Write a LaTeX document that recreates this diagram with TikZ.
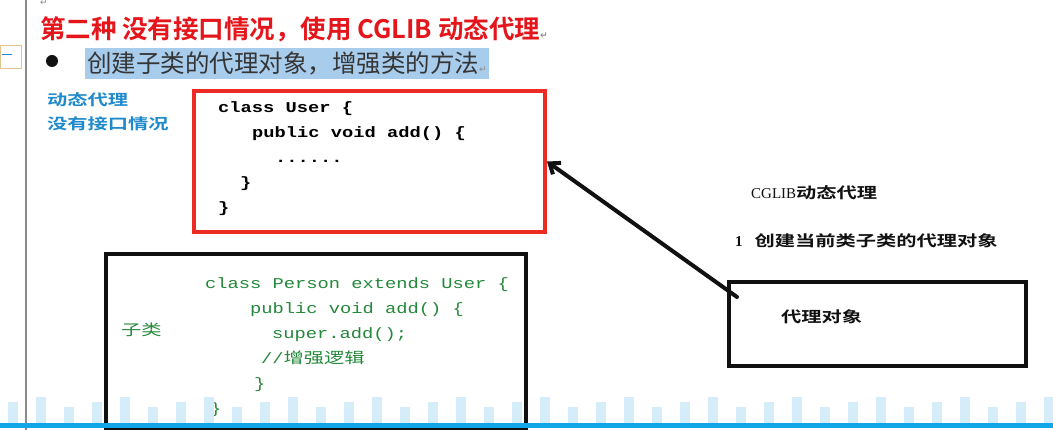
\documentclass[tikz,border=0pt]{standalone}
\usepackage{fontspec}
\usetikzlibrary{arrows.meta,positioning}
\newfontfamily\cjk[BoldFont={Noto Sans CJK SC Bold}]{Noto Sans CJK SC}
\newfontfamily\cjkwide[FakeStretch=1.35,BoldFont={Noto Sans CJK SC Bold}]{Noto Sans CJK SC}
\newfontfamily\codefont[FakeStretch=1.25]{Liberation Mono}
\newfontfamily\cgserif{Liberation Serif}
\newfontfamily\marksym{DejaVu Sans}
\definecolor{cgred}{HTML}{E5161B}
\definecolor{cgboxred}{HTML}{EE2A24}
\definecolor{cgblue}{HTML}{1E8ACB}
\definecolor{cggreen}{HTML}{24883A}
\definecolor{cghl}{HTML}{A8CCEC}
\definecolor{cgink}{HTML}{111111}
\definecolor{cgrule}{HTML}{8A8A8A}
\definecolor{cgtan}{HTML}{E2C48C}
\definecolor{cgstrip}{HTML}{D4EDF8}
\definecolor{cgline}{HTML}{12A6E6}
\tikzset{
  cgbox/.style={draw=cgink, line width=4pt, inner sep=0pt},
  cgtxt/.style={inner sep=0pt, anchor=base west, text=cgink},
  cgcode/.style={inner sep=0pt, anchor=north west, align=left,
    font=\codefont\fontsize{15}{25}\selectfont},
  cglbl/.style={cgtxt, font=\cjkwide\fontsize{15}{24}\selectfont},
  cgarr/.style={-{Straight Barb[length=9pt,width=14pt]}, line width=4pt, draw=cgink, line cap=round},
  cgmark/.style={inner sep=0pt, text=cgrule, font=\marksym\fontsize{9}{9}\selectfont},
}
\newcommand{\cgmk}{{\marksym\color{cgrule}\fontsize{9}{9}\selectfont ↵}}

\begin{document}
\begin{tikzpicture}[x=1pt, y=-1pt]
  \useasboundingbox[fill=white] (0,0) rectangle (1053,430);
  % page margin
  \draw[cgrule, line width=1.2pt] (26,0) -- (26,430);
  \draw[draw=cgtan, fill=white, line width=0.8pt] (0,45) rectangle (21,68);
  \draw[cgblue, line width=1pt] (2,55) -- (12,55);
  \node[cgmark] (mk0) at (44,3) {↵};

  % heading lines
  \node[cgtxt, font=\cjk\bfseries\fontsize{25.5}{25.5}\selectfont, text=cgred] (title) at (40,39)
    {第二种 没有接口情况，使用 CGLIB 动态代理\cgmk};
  \node[circle, fill=cgink, minimum size=12pt, inner sep=0pt] (dot) at (52,61) {};
  \node[fill=cghl, inner xsep=2pt, minimum height=29pt, anchor=west,
    font=\cjk\fontsize{24.5}{24.5}\selectfont, text=cgink!85] (aim) at (85,63.5)
    {创建子类的代理对象，增强类的方法\cgmk};
  \node[cglbl, font=\cjkwide\bfseries\fontsize{15}{24}\selectfont, text=cgblue,
    align=left, anchor=north west] (kind) at (47,92) {动态代理\\没有接口情况};

  % parent class
  \node[cgbox, draw=cgboxred, minimum width=351pt, minimum height=141pt] (user) at (369.5,161.5) {};
  \node[cgcode, font=\codefont\bfseries\fontsize{15}{25}\selectfont] (usercode) at (218,101)
    {class User \{\\\hspace*{34pt}public void add() \{\\\hspace*{57pt}......\\\hspace*{22pt}\}\\\}};

  % sub class
  \node[cgbox, minimum width=420pt, minimum height=176pt] (person) at (316,342) {};
  \node[cgcode, text=cggreen] (personcode) at (205,277)
    {class Person extends User \{\\\hspace*{45pt}public void add() \{\\\hspace*{67pt}super.add();\\
     \hspace*{56pt}//{\cjkwide 增强逻辑}\\\hspace*{49pt}\}\\\hspace*{5pt}\}};
  \node[cglbl, text=cggreen] (sub) at (121,336) {子类};

  % proxy
  \node[cglbl, font=\cjkwide\bfseries\fontsize{15}{24}\selectfont] (cglib) at (751,199)
    {{\cgserif\mdseries\fontsize{15}{15}\selectfont CGLIB}动态代理};
  \node[cglbl, font=\cjkwide\bfseries\fontsize{15}{24}\selectfont] (step1) at (735,247)
    {{\cgserif 1}\hspace{12pt}创建当前类子类的代理对象};
  \node[cgbox, minimum width=297pt, minimum height=84pt] (proxy) at (877.5,324) {};
  \node[cglbl, font=\cjkwide\bfseries\fontsize{15}{24}\selectfont] (proxylbl) at (781,323) {代理对象};

  \draw[cgarr] ([shift={(10,17)}]proxy.north west) -- (user.east);

  % video bar
  \foreach \bx [count=\bi] in {8,36,...,1050}
    \fill[cgstrip] (\bx,423) rectangle ++(10,{-16-5*mod(\bi,3)});
  \fill[cgline] (0,423) rectangle (1053,428);
\end{tikzpicture}
\end{document}
